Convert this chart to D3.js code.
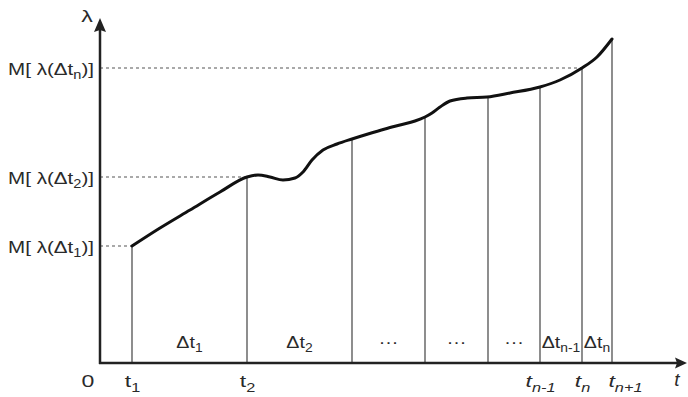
<!DOCTYPE html>
<html>
<head>
<meta charset="utf-8">
<script src="https://cdn.jsdelivr.net/npm/d3@7"></script>
<style>
  html, body { margin: 0; padding: 0; background: #fff; }
  svg { display: block; }
  text { font-family: "Liberation Sans", Arial, sans-serif; fill: #2a2a2a; }
</style>
</head>
<body>
<svg id="chart" width="688" height="397"></svg>
<script>
// ---- data (x = time units, y = lambda units) ----
const tickTimes   = [32, 147, 252, 325, 388, 440, 482, 512];
const tickMain    = ["t", "t", "", "", "", "t", "t", "t"];
const tickSubs    = ["1", "2", "", "", "", "n-1", "n", "n+1"];
const tickItalic  = [false, false, false, false, false, true, true, true];
const intervalSubs = ["1", "2", "", "", "", "n-1", "n"];   // "" -> "..."
const mLevels     = [117, 186, 295];
const mSubs       = ["1", "2", "n"];
const mTickIndex  = [0, 1, 6];
const curveT = [32, 60, 90, 120, 147, 158, 170, 183, 195, 203, 212, 223, 237, 252, 268, 285, 300, 315, 325, 332, 340, 350, 367, 387, 410, 440, 460, 482, 497, 512];
const curveL = [117, 135, 153, 171, 186, 188, 186, 183, 185, 191, 203, 213, 219, 224, 229, 234, 238, 242, 246, 250, 256, 262, 265, 266, 270, 276, 283, 295, 306, 324];

const svg = d3.select("#chart");
const x = d3.scaleLinear().domain([0, 587]).range([100, 687]);
const y = d3.scaleLinear().domain([0, 345]).range([363, 18]);
const FS = 17, FSUB = 12;
const FONT = "Liberation Sans, Arial, sans-serif";

function lambdaAt(t) {
  for (let i = 0; i < curveT.length - 1; i++) {
    if (t >= curveT[i] && t <= curveT[i + 1]) {
      const f = (t - curveT[i]) / (curveT[i + 1] - curveT[i]);
      return curveL[i] + f * (curveL[i + 1] - curveL[i]);
    }
  }
  return curveL[curveL.length - 1];
}

// dashed level lines
svg.append("g").selectAll("line").data(mLevels).join("line")
  .attr("x1", x(0)).attr("x2", (d, i) => x(tickTimes[mTickIndex[i]]))
  .attr("y1", d => y(d)).attr("y2", d => y(d))
  .attr("stroke", "#555").attr("stroke-width", 1.2).attr("stroke-dasharray", "3,3");

// vertical interval lines
svg.append("g").selectAll("line").data(tickTimes).join("line")
  .attr("x1", d => x(d)).attr("x2", d => x(d))
  .attr("y1", y(0)).attr("y2", d => y(lambdaAt(d)))
  .attr("stroke", "#7a7a7a").attr("stroke-width", 1.7);

// curve
const pts = curveT.map((t, i) => [t, curveL[i]]);
svg.append("path").datum(pts)
  .attr("d", d3.line().x(d => x(d[0])).y(d => y(d[1])).curve(d3.curveMonotoneX))
  .attr("fill", "none").attr("stroke", "#111").attr("stroke-width", 3).attr("stroke-linecap", "round");

// axes lines with arrows
const axisColor = "#222";
svg.append("line").attr("x1", x(0) - 1).attr("x2", x(578)).attr("y1", y(0)).attr("y2", y(0))
  .attr("stroke", axisColor).attr("stroke-width", 2.5);
svg.append("path")
  .attr("d", `M${x(587)},${y(0)} L${x(575)},${y(0) - 5.5} L${x(577)},${y(0)} L${x(575)},${y(0) + 5.5} Z`)
  .attr("fill", axisColor);
svg.append("line").attr("x1", x(0)).attr("x2", x(0)).attr("y1", y(0) + 1).attr("y2", y(335))
  .attr("stroke", axisColor).attr("stroke-width", 2.5);
svg.append("path")
  .attr("d", `M${x(0)},${y(345)} L${x(0) - 6},${y(331)} L${x(0)},${y(333)} L${x(0) + 6},${y(331)} Z`)
  .attr("fill", axisColor);

function widthOf(sel) { return sel.node().getBBox().width; }

// y axis tick labels (M[ λ(Δt_i)])
const yAxis = svg.append("g").attr("transform", `translate(${x(0)},0)`)
  .call(d3.axisLeft(y).tickValues(mLevels).tickSize(0).tickPadding(6).tickFormat(""));
yAxis.select(".domain").remove();
const yTexts = yAxis.selectAll(".tick text");
yTexts.each(function (d, i) {
  const t = d3.select(this).text(null)
    .attr("font-size", FS).attr("font-family", FONT)
    .attr("fill", "#2a2a2a").attr("dy", null).attr("y", 6)
    .attr("text-anchor", "end");
  t.append("tspan").text("M[ λ(Δt");
  t.append("tspan").text(mSubs[i]).attr("font-size", FSUB).attr("dy", 4);
  t.append("tspan").text(")]").attr("dy", -4);
});
// source lettering is stretched horizontally: label spans ~86px
const sxY = 86 / widthOf(d3.select(yTexts.nodes()[0]));
yTexts.attr("transform", `translate(-6,0) scale(${sxY},1) translate(6,0)`);

// x axis tick labels
const xAxis = svg.append("g").attr("transform", `translate(0,${y(0)})`)
  .call(d3.axisBottom(x).tickValues(tickTimes).tickSize(0).tickFormat(""));
xAxis.select(".domain").remove();
const xTexts = xAxis.selectAll(".tick text");
xTexts.each(function (d, i) {
  const t = d3.select(this).text(null)
    .attr("font-size", FS).attr("font-family", FONT)
    .attr("fill", "#2a2a2a").attr("dy", null).attr("y", 24)
    .attr("text-anchor", i === tickTimes.length - 1 ? "start" : "middle")
    .attr("x", i === tickTimes.length - 1 ? -3 : 0)
    .attr("font-style", tickItalic[i] ? "italic" : "normal");
  if (!tickMain[i]) return;
  t.append("tspan").text(tickMain[i]);
  t.append("tspan").text(tickSubs[i]).attr("font-size", FSUB).attr("dy", 5);
});
// t_{n-1} spans ~30px in the source
const sxX = 30 / widthOf(d3.select(xTexts.nodes()[5]));
xTexts.attr("transform", `scale(${sxX},1)`);

// interval labels
const mids = d3.pairs(tickTimes).map(([a, b]) => (a + b) / 2);
const iTexts = svg.append("g").selectAll("text").data(mids).join("text")
  .attr("text-anchor", "middle").attr("font-size", FS)
  .each(function (d, i) {
    const t = d3.select(this);
    if (!intervalSubs[i]) { t.text("···"); return; }
    t.append("tspan").text("Δt");
    t.append("tspan").text(intervalSubs[i]).attr("font-size", FSUB).attr("dy", 4);
  });
// Δt_{n-1} spans ~39px in the source
const sxI = 39 / widthOf(d3.select(iTexts.nodes()[5]));
iTexts.attr("transform", d => `translate(${x(d)},348) scale(${sxI},1)`);

// origin, axis names
svg.append("text").attr("transform", `translate(88,387) scale(${sxX},1)`).attr("text-anchor", "middle").attr("font-size", FS).text("0");
svg.append("text").attr("transform", `translate(87,22) scale(${sxX},1)`).attr("text-anchor", "middle").attr("font-size", FS).text("λ");
svg.append("text").attr("x", 677).attr("y", 386).attr("text-anchor", "middle").attr("font-size", 19)
  .attr("font-style", "italic").text("t");
</script>
</body>
</html>
